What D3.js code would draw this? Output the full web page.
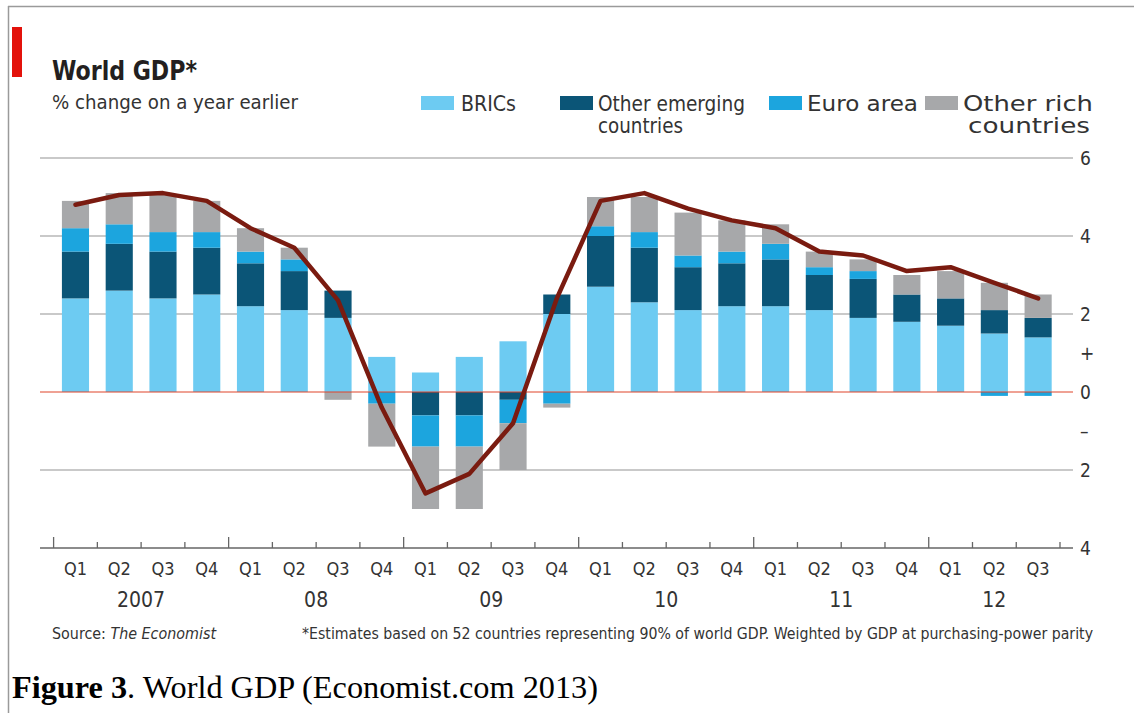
<!DOCTYPE html>
<html>
<head>
<meta charset="utf-8">
<script src="https://cdn.jsdelivr.net/npm/d3@7"></script>
<style>
  body { margin: 0; background: #fff; }
  svg { display: block; }
  .eco { font-family: "DejaVu Sans Condensed", "DejaVu Sans", sans-serif; font-stretch: condensed; fill: #333; }
</style>
</head>
<body>
<svg id="chart" width="1134" height="713"></svg>
<script>
// quarters Q1 2007 .. Q3 2012
const quarters = ["Q1","Q2","Q3","Q4","Q1","Q2","Q3","Q4","Q1","Q2","Q3","Q4",
                  "Q1","Q2","Q3","Q4","Q1","Q2","Q3","Q4","Q1","Q2","Q3"];
const yearLabels = ["2007","08","09","10","11","12"];

const brics         = [2.4,2.6,2.4,2.5,2.2,2.1,1.9,0.9,0.5,0.9,1.3,2.0,2.7,2.3,2.1,2.2,2.2,2.1,1.9,1.8,1.7,1.5,1.4];
const otherEmerging = [1.2,1.2,1.2,1.2,1.1,1.0,0.7,0,-0.6,-0.6,-0.2,0.5,1.3,1.4,1.1,1.1,1.2,0.9,1.0,0.7,0.7,0.6,0.5];
const euroArea      = [0.6,0.5,0.5,0.4,0.3,0.3,0,-0.3,-0.8,-0.8,-0.6,-0.3,0.25,0.4,0.3,0.3,0.4,0.2,0.2,0,0,-0.1,-0.1];
const otherRich     = [0.7,0.8,0.95,0.8,0.6,0.3,-0.2,-1.1,-1.6,-1.6,-1.2,-0.1,0.75,0.9,1.1,0.8,0.5,0.4,0.3,0.5,0.7,0.7,0.6];
const worldGdp      = [4.8,5.05,5.1,4.9,4.2,3.7,2.35,-0.4,-2.6,-2.1,-0.8,2.4,4.9,5.1,4.7,4.4,4.2,3.6,3.5,3.1,3.2,2.8,2.4];

const seriesKeys = ["BRICs", "Other emerging", "Euro area", "Other rich"];
const seriesNames = [["BRICs"], ["Other emerging", "countries"], ["Euro area"], ["Other rich", "countries"]];
const yTicks = [6, 4, 2, 1, 0, -1, -2, -4];
const yTickText = {"6": "6", "4": "4", "2": "2", "1": "+", "0": "0", "-1": "\u2013", "-2": "2", "-4": "4"};

const svg = d3.select("#chart");
const colors = d3.scaleOrdinal().domain(seriesKeys)
  .range(["#6dcbf2", "#0b5577", "#1ca5de", "#a7a8aa"]);

const table = quarters.map((q, i) => ({
  idx: i,
  "BRICs": brics[i],
  "Other emerging": otherEmerging[i],
  "Euro area": euroArea[i],
  "Other rich": otherRich[i],
  world: worldGdp[i]
}));

const x = d3.scaleBand().domain(d3.range(quarters.length)).range([53.6, 1060]).padding(0);
const barW = x.bandwidth() * 0.62;
const y = d3.scaleLinear().domain([-4, 6]).range([548, 158]);

// page frame
svg.append("rect").attr("width", 1134).attr("height", 713).attr("fill", "#fff");
svg.append("line").attr("x1", 8).attr("x2", 1134).attr("y1", 6.5).attr("y2", 6.5)
  .attr("stroke", "#9a9a9a").attr("stroke-width", 1.5);
svg.append("line").attr("x1", 8.5).attr("x2", 8.5).attr("y1", 6).attr("y2", 713)
  .attr("stroke", "#9a9a9a").attr("stroke-width", 1.5);

// title block
svg.append("rect").attr("x", 12).attr("y", 27).attr("width", 10).attr("height", 50).attr("fill", "#e3120b");
svg.append("text").attr("class", "eco").attr("x", 52).attr("y", 80)
  .style("font-size", "26px").style("font-weight", "bold").style("fill", "#231f20")
  .attr("textLength", 145).attr("lengthAdjust", "spacingAndGlyphs")
  .text("World GDP*");
svg.append("text").attr("class", "eco").attr("x", 52).attr("y", 109)
  .style("font-size", "20px")
  .attr("textLength", 246).attr("lengthAdjust", "spacingAndGlyphs")
  .text("% change on a year earlier");

// legend
const legendX = [421, 560, 769, 925];
const legendTextW = [[55], [147, 85], [111], [130, 122]];
seriesKeys.forEach((key, i) => {
  const g = svg.append("g").attr("transform", `translate(${legendX[i]}, 0)`);
  g.append("rect").attr("x", 0).attr("y", 96).attr("width", 33).attr("height", 14).attr("fill", colors(key));
  seriesNames[i].forEach((line, j) => {
    const t = g.append("text").attr("class", "eco").attr("y", 111 + j * 22)
      .style("font-size", "21px")
      .attr("textLength", legendTextW[i][j]).attr("lengthAdjust", "spacingAndGlyphs")
      .text(line);
    if (i === 3 && j === 1) t.attr("x", 165).attr("text-anchor", "end");
    else t.attr("x", i === 0 ? 40 : 38);
  });
});

// gridlines and right-hand labels
yTicks.forEach(v => {
  if (v === 6 || v === 4 || v === 2 || v === -2) {
    svg.append("line").attr("x1", 40).attr("x2", 1073).attr("y1", y(v)).attr("y2", y(v))
      .attr("stroke", "#c9c9c9").attr("stroke-width", 2);
  }
  svg.append("text").attr("class", "eco").attr("x", 1080).attr("y", y(v)).attr("dy", "0.36em")
    .style("font-size", "19px").text(yTickText[String(v)]);
});

// stacked bars
const stack = d3.stack().keys(seriesKeys).offset(d3.stackOffsetDiverging);
const layers = stack(table);
svg.append("g").selectAll("g").data(layers).join("g")
  .attr("fill", d => colors(d.key))
  .selectAll("rect").data(d => d).join("rect")
  .attr("x", d => x(d.data.idx) + (x.bandwidth() - barW) / 2)
  .attr("width", barW)
  .attr("y", d => y(Math.max(d[0], d[1])))
  .attr("height", d => Math.abs(y(d[0]) - y(d[1])));

// zero line
svg.append("line").attr("x1", 40).attr("x2", 1073).attr("y1", y(0)).attr("y2", y(0))
  .attr("stroke", "#e0452a").attr("stroke-width", 1.2);

// bottom axis with quarter ticks
svg.append("line").attr("x1", 40).attr("x2", 1073).attr("y1", y(-4)).attr("y2", y(-4))
  .attr("stroke", "#666").attr("stroke-width", 1.5);
d3.range(quarters.length + 1).forEach(i => {
  const xx = i < quarters.length ? x(i) : x(quarters.length - 1) + x.bandwidth();
  const major = i % 4 === 0;
  svg.append("line").attr("x1", xx).attr("x2", xx)
    .attr("y1", y(-4)).attr("y2", y(-4) - (major ? 11 : 6))
    .attr("stroke", "#666").attr("stroke-width", 1.3);
});
svg.append("g").selectAll("text").data(quarters).join("text")
  .attr("class", "eco")
  .attr("x", (d, i) => x(i) + x.bandwidth() / 2)
  .attr("y", 575).attr("text-anchor", "middle")
  .style("font-size", "18px").text(d => d);
yearLabels.forEach((yr, k) => {
  const first = k * 4;
  const last = Math.min(first + 3, quarters.length - 1);
  const cx = (x(first) + x(last) + x.bandwidth()) / 2;
  svg.append("text").attr("class", "eco").attr("x", cx).attr("y", 607)
    .attr("text-anchor", "middle").style("font-size", "21px").text(yr);
});

// world GDP line
const line = d3.line()
  .x(d => x(d.idx) + x.bandwidth() / 2)
  .y(d => y(d.world));
svg.append("path").datum(table)
  .attr("d", line)
  .attr("fill", "none")
  .attr("stroke", "#7a1b10")
  .attr("stroke-width", 4.5)
  .attr("stroke-linejoin", "round")
  .attr("stroke-linecap", "round");

// footer
const src = svg.append("text").attr("class", "eco").attr("x", 52).attr("y", 639)
  .style("font-size", "16px")
  .attr("textLength", 164).attr("lengthAdjust", "spacingAndGlyphs");
src.append("tspan").text("Source: ");
src.append("tspan").style("font-style", "italic").text("The Economist");
svg.append("text").attr("class", "eco").attr("x", 302).attr("y", 639)
  .style("font-size", "16px")
  .attr("textLength", 791).attr("lengthAdjust", "spacingAndGlyphs")
  .text("*Estimates based on 52 countries representing 90% of world GDP. Weighted by GDP at purchasing-power parity");

// caption
const cap = svg.append("text").attr("x", 12).attr("y", 698)
  .style("font-family", "'Liberation Serif', 'Times New Roman', serif")
  .style("font-size", "31px").style("fill", "#000")
  .attr("textLength", 586).attr("lengthAdjust", "spacingAndGlyphs");
cap.append("tspan").style("font-weight", "bold").text("Figure 3");
cap.append("tspan").text(". World GDP (Economist.com 2013)");
</script>
</body>
</html>
